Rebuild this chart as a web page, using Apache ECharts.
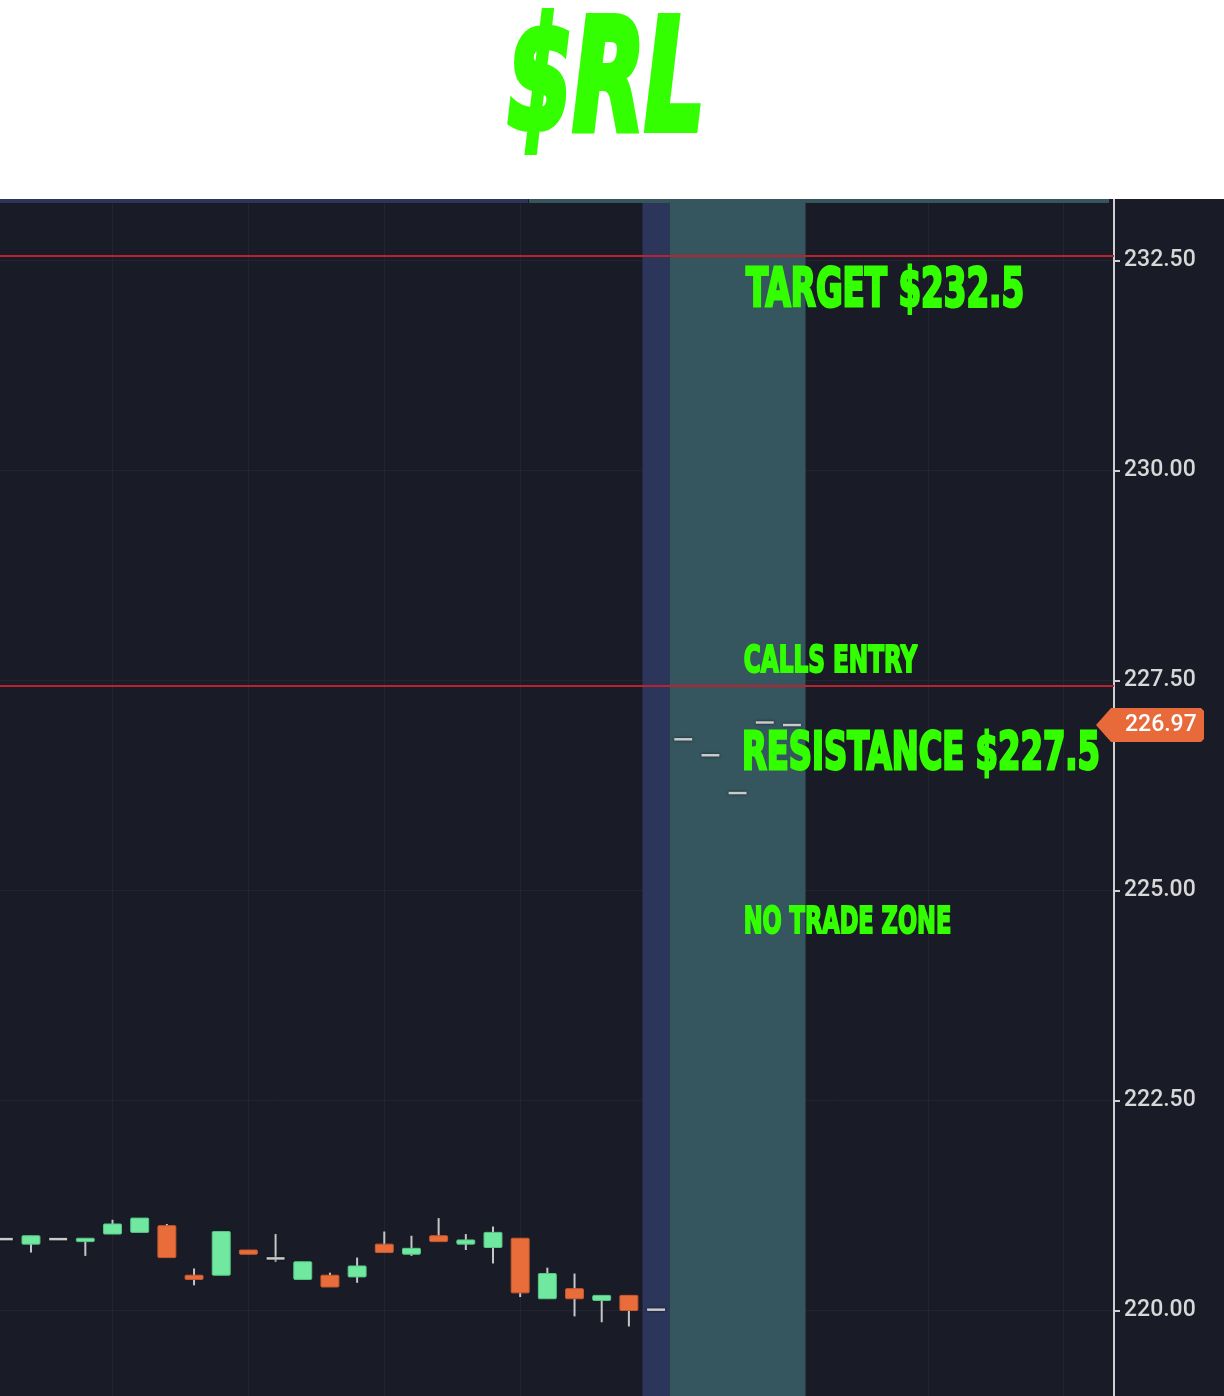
<!DOCTYPE html>
<html>
<head>
<meta charset="utf-8">
<script src="https://cdn.jsdelivr.net/npm/echarts@6.0.0/dist/echarts.min.js"></script>
<style>
html,body{margin:0;padding:0;background:#ffffff;}
#chart{width:1224px;height:1396px;}
</style>
</head>
<body>
<div id="chart"></div>
<script>
// ---- data ----
const ticker = '$RL';
const slots = [0,1,2,3,4,5,6,7,8,9,10,11,12,13,14,15,16,17,18,19,20,21,22,23,24,25,26,27,28,29];
const opens  = [220.85,220.79,220.85,220.82,220.91,220.93,221.01,220.42,220.42,220.72,220.62,220.37,220.42,220.40,220.79,220.67,220.89,220.79,220.75,220.86,220.14,220.26,220.12,220.18,220.01,226.80,226.61,226.16,227.00,226.97];
const closes = [220.85,220.89,220.85,220.86,221.03,221.10,220.63,220.37,220.94,220.67,220.62,220.58,220.28,220.53,220.69,220.74,220.82,220.84,220.93,220.21,220.44,220.14,220.18,220.00,220.01,226.80,226.61,226.16,227.00,226.97];
const lows   = [220.85,220.69,220.85,220.65,220.91,220.93,220.63,220.30,220.42,220.67,220.58,220.37,220.28,220.33,220.69,220.65,220.82,220.72,220.56,220.16,220.14,219.93,219.86,219.81,220.01,226.80,226.61,226.16,227.00,226.97];
const highs  = [220.85,220.89,220.85,220.86,221.08,221.10,221.03,220.50,220.94,220.72,220.91,220.58,220.45,220.63,220.94,220.89,221.10,220.91,221.00,220.86,220.51,220.44,220.18,220.18,220.01,226.80,226.61,226.16,227.00,226.97];
const levels = [232.56, 227.44];            // red horizontal lines
const timeGridSlots = [4, 9, 14, 19, 24, 29, 34, 39]; // vertical grid lines
const preZone = [24, 24];                   // blue band (slot range)
const noTradeZone = [25, 29];               // teal band (slot range)
const annotations = ['TARGET $232.5', 'CALLS ENTRY', 'RESISTANCE $227.5', 'NO TRADE ZONE'];
const lastPrice = closes[closes.length - 1];

// ---- helpers ----
const GREEN = '#33ff00';
const mctx = document.createElement('canvas').getContext('2d');
function measure(text, font) { mctx.font = font; return mctx.measureText(text).width; }
function condensedText(text, left, centerY, targetW, size, lw, italic) {
  const font = (italic ? 'italic ' : '') + 'bold ' + size + 'px "DejaVu Sans"';
  const w = measure(text, font);
  const s = targetW / (w + lw);
  return {
    type: 'text', z: 110, x: left + s * lw / 2, y: centerY, scaleX: s, scaleY: 1, silent: true,
    style: { text: text, font: font, fill: GREEN, stroke: GREEN, lineWidth: lw,
             textAlign: 'left', textVerticalAlign: 'middle', verticalAlign: 'middle' }
  };
}

const candleData = slots.map((s, i) => [s, opens[i], closes[i], lows[i], highs[i]]);
const zoneData = [[preZone[0], preZone[1], 0, 225], [noTradeZone[0], noTradeZone[1], 1, 225]];

const chart = echarts.init(document.getElementById('chart'), null, { renderer: 'canvas' });

const option = {
  animation: false,
  backgroundColor: '#191b26',
  grid: { left: 0, right: 110, top: 50.5, bottom: -124.5, containLabel: false, outerBoundsMode: 'none' },
  xAxis: { type: 'value', min: -0.14, max: 40.85, show: false },
  yAxis: {
    type: 'value', position: 'right', min: 217.5, max: 235, interval: 2.5,
    axisLine: { show: true, onZero: false, lineStyle: { color: '#cfcfcf', width: 2 } },
    axisTick: { show: true, inside: false, length: 6, lineStyle: { color: '#cfcfcf', width: 2 } },
    axisLabel: { color: '#d8d8d8', fontSize: 23, fontFamily: 'Roboto', fontWeight: 500, margin: 10,
                 formatter: v => v.toFixed(2) },
    splitLine: { show: true, lineStyle: { color: '#22252f', width: 1 } }
  },
  series: [
    { // vertical time grid lines
      type: 'line', data: [[-10, 220]], symbol: 'none', lineStyle: { opacity: 0 }, silent: true, z: 1,
      markLine: {
        z: 1, silent: true, symbol: 'none', label: { show: false }, animation: false,
        lineStyle: { color: '#22252f', width: 1, type: 'solid' }, emphasis: { disabled: true },
        data: timeGridSlots.map(v => ({ xAxis: v }))
      }
    },
    { // session bands
      type: 'custom', z: 2, silent: true, data: zoneData,
      encode: { x: [0, 1], y: 3 },
      renderItem: function (params, api) {
        const x0 = api.coord([api.value(0) - 0.5, 225])[0];
        const x1 = api.coord([api.value(1) + 0.5, 225])[0];
        const cs = params.coordSys;
        return { type: 'rect', shape: { x: x0, y: cs.y, width: x1 - x0, height: cs.height },
                 style: { fill: api.value(2) === 0 ? '#2c365b' : '#35555f' } };
      }
    },
    { // candles
      type: 'custom', z: 3, silent: true, data: candleData,
      encode: { x: 0, y: [1, 2, 3, 4] },
      renderItem: function (params, api) {
        const i = api.value(0), o = api.value(1), c = api.value(2), l = api.value(3), h = api.value(4);
        const pO = api.coord([i, o]), pC = api.coord([i, c]), pL = api.coord([i, l]), pH = api.coord([i, h]);
        const bw = api.size([1, 0])[0] * 0.66;
        const ch = [];
        if (h !== l) {
          ch.push({ type: 'line', shape: { x1: pO[0], y1: pH[1], x2: pO[0], y2: pL[1] },
                    style: { stroke: '#c6c6c6', lineWidth: 2 } });
        }
        if (o === c) {
          ch.push({ type: 'rect', shape: { x: pO[0] - bw / 2, y: pO[1] - 1.25, width: bw, height: 2.5 },
                    style: { fill: '#cacaca', shadowBlur: 3, shadowColor: 'rgba(0,0,0,0.6)' } });
        } else {
          const up = c > o;
          const top = Math.min(pO[1], pC[1]);
          const ht = Math.max(Math.abs(pO[1] - pC[1]), 3);
          ch.push({ type: 'rect', shape: { x: pO[0] - bw / 2, y: top, width: bw, height: ht, r: 1 },
                    style: { fill: up ? '#70e8a0' : '#e96d3a', stroke: up ? '#56c887' : '#c95a2e', lineWidth: 1 } });
        }
        return { type: 'group', children: ch };
      }
    },
    { // red level lines
      type: 'line', data: [[-10, 220]], symbol: 'none', lineStyle: { opacity: 0 }, silent: true, z: 4,
      markLine: {
        z: 5, silent: true, symbol: 'none', label: { show: false }, animation: false,
        lineStyle: { color: '#b8232f', width: 2, type: 'solid' }, emphasis: { disabled: true },
        data: levels.map(v => ({ yAxis: v }))
      }
    }
  ]
};
chart.setOption(option);

const yLast = chart.convertToPixel({ yAxisIndex: 0 }, lastPrice);

const graphics = [
  { type: 'rect', z: 100, silent: true, shape: { x: 0, y: 0, width: 1224, height: 199 }, style: { fill: '#ffffff' } },
  { type: 'rect', z: 101, silent: true, shape: { x: 0, y: 199, width: 528, height: 4 }, style: { fill: '#2c365b' } },
  { type: 'rect', z: 101, silent: true, shape: { x: 529, y: 199, width: 580, height: 4 }, style: { fill: '#35555f' } },
  condensedText(ticker, 505, 89, 202, 154, 8, true),
  condensedText(annotations[0], 745, 292, 280, 53, 3, false),
  condensedText(annotations[1], 743, 662, 175, 37, 2.2, false),
  condensedText(annotations[2], 741, 756, 360, 51, 3, false),
  condensedText(annotations[3], 743, 923, 209, 38, 2.2, false),
  { type: 'polygon', z: 105, silent: true,
    shape: { points: [[1096, yLast], [1111, yLast - 17], [1201, yLast - 17], [1204, yLast - 14],
                      [1204, yLast + 14], [1201, yLast + 17], [1111, yLast + 17]] },
    style: { fill: '#e8693a' } },
  { type: 'text', z: 106, silent: true, x: 1125, y: yLast,
    style: { text: lastPrice.toFixed(2), font: '500 23px Roboto', fill: '#ffffff',
             textAlign: 'left', textVerticalAlign: 'middle', verticalAlign: 'middle' } }
];
chart.setOption({ graphic: { elements: graphics } });
</script>
</body>
</html>
